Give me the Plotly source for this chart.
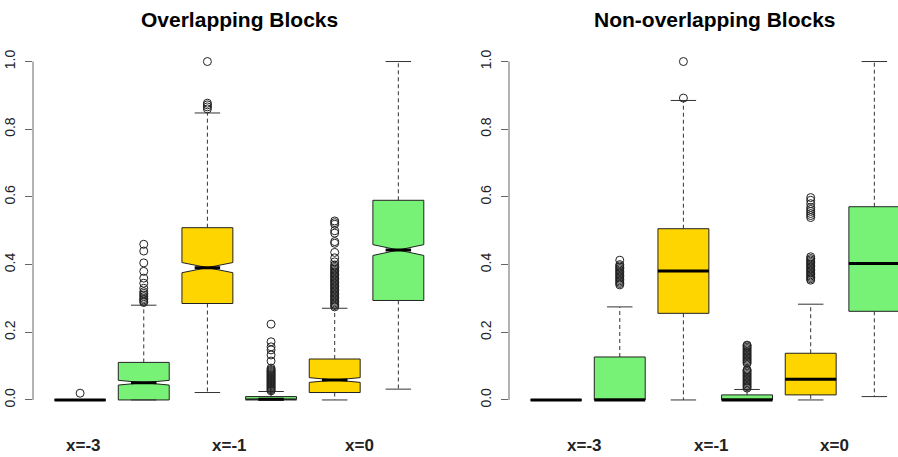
import plotly.graph_objects as go

# ---------------- data ----------------
positions = [1, 2, 3, 4, 5, 6]
group_labels = ["x=-3", "x=-1", "x=0"]
left_label_pos = [1.06, 3.34, 5.39]
right_label_pos = [1.44, 3.44, 5.38]
box_colors = ["gold", "green", "gold", "green", "gold", "green"]

# Overlapping blocks
ov_q1 = [0.0, 0.0, 0.285, 0.0, 0.022, 0.294]
ov_med = [0.0, 0.051, 0.391, 0.002, 0.059, 0.443]
ov_q3 = [0.0, 0.111, 0.509, 0.010, 0.121, 0.590]
ov_lo = [0.0, 0.0, 0.022, 0.0, 0.0, 0.032]
ov_hi = [0.0, 0.280, 0.848, 0.025, 0.271, 1.0]
ov_notch = [0.0, 0.007, 0.015, 0.001, 0.007, 0.016]
ov_out = [
    [0.02],
    [0.288, 0.292, 0.296, 0.300, 0.305, 0.310, 0.315, 0.320, 0.330, 0.345,
     0.360, 0.380, 0.405, 0.440, 0.460],
    [0.860, 0.866, 0.872, 0.877, 1.0],
    [0.027, 0.030, 0.033, 0.036, 0.039, 0.042, 0.045, 0.048, 0.051, 0.054,
     0.057, 0.060, 0.063, 0.066, 0.069, 0.072, 0.075, 0.078, 0.081, 0.084,
     0.087, 0.090, 0.094, 0.115, 0.133, 0.148, 0.157, 0.172, 0.224],
    [0.275, 0.279, 0.283, 0.287, 0.291, 0.295, 0.299, 0.303, 0.307, 0.311,
     0.315, 0.319, 0.323, 0.327, 0.331, 0.335, 0.339, 0.343, 0.347, 0.351,
     0.355, 0.359, 0.363, 0.367, 0.371, 0.375, 0.379, 0.383, 0.387, 0.391,
     0.395, 0.399, 0.408, 0.420, 0.436, 0.463, 0.468, 0.493, 0.500, 0.519,
     0.524, 0.529],
    [],
]

# Non-overlapping blocks
no_q1 = [0.0, 0.0, 0.256, 0.0, 0.015, 0.262]
no_med = [0.0, 0.0, 0.381, 0.0, 0.061, 0.403]
no_q3 = [0.0, 0.127, 0.506, 0.015, 0.138, 0.571]
no_lo = [0.0, 0.0, 0.0, 0.0, 0.0, 0.010]
no_hi = [0.0, 0.275, 0.885, 0.031, 0.283, 1.0]
no_out = [
    [],
    [0.340, 0.344, 0.348, 0.352, 0.356, 0.360, 0.364, 0.368, 0.372, 0.376,
     0.380, 0.384, 0.388, 0.392, 0.396, 0.400, 0.413],
    [0.892, 1.0],
    [0.035, 0.039, 0.043, 0.047, 0.051, 0.055, 0.059, 0.063, 0.067, 0.071,
     0.075, 0.079, 0.083, 0.087, 0.089, 0.108, 0.112, 0.116, 0.120, 0.124,
     0.128, 0.132, 0.136, 0.140, 0.144, 0.148, 0.152, 0.156, 0.160, 0.162],
    [0.354, 0.358, 0.362, 0.366, 0.370, 0.374, 0.378, 0.382, 0.386, 0.390,
     0.394, 0.398, 0.402, 0.406, 0.410, 0.414, 0.418, 0.423,
     0.539, 0.545, 0.551, 0.557, 0.563, 0.569, 0.580, 0.590, 0.598],
    [],
]

y_ticks = [0.0, 0.2, 0.4, 0.6, 0.8, 1.0]
y_ticktext = ["0.0", "0.2", "0.4", "0.6", "0.8", "1.0"]

# ---------------- style ----------------
COLORS = {"gold": "#FFD500", "green": "#77F277"}
EDGE = "#222222"
BOX_W = 0.8
CAP_HALF = 0.2
NOTCH_WIDTH = 0.5

fig = go.Figure()


def add_panel(xa, ya, q1, med, q3, lo, hi, outs, notched, notch):
    for cname in ["gold", "green"]:
        idx = [i for i, c in enumerate(box_colors) if c == cname]
        kw = {}
        if notched:
            kw = dict(notched=True, notchspan=[notch[i] for i in idx],
                      notchwidth=NOTCH_WIDTH)
        fig.add_trace(go.Box(
            x=[positions[i] for i in idx],
            q1=[q1[i] for i in idx],
            median=[med[i] for i in idx],
            q3=[q3[i] for i in idx],
            lowerfence=[q1[i] for i in idx],
            upperfence=[q3[i] for i in idx],
            width=BOX_W, whiskerwidth=0, boxpoints=False,
            fillcolor=COLORS[cname], line=dict(color=EDGE, width=1),
            xaxis=xa, yaxis=ya, showlegend=False, hoverinfo="skip", **kw))
    # whiskers (dashed)
    wx, wy = [], []
    for i, p in enumerate(positions):
        wx += [p, p, None, p, p, None]
        wy += [q3[i], hi[i], None, q1[i], lo[i], None]
    fig.add_trace(go.Scatter(x=wx, y=wy, mode="lines",
                             line=dict(color="#333333", width=1, dash="4px,3px"),
                             xaxis=xa, yaxis=ya, showlegend=False, hoverinfo="skip"))
    # caps
    cx, cy = [], []
    for i, p in enumerate(positions):
        cx += [p - CAP_HALF, p + CAP_HALF, None, p - CAP_HALF, p + CAP_HALF, None]
        cy += [hi[i], hi[i], None, lo[i], lo[i], None]
    fig.add_trace(go.Scatter(x=cx, y=cy, mode="lines",
                             line=dict(color="#333333", width=1),
                             xaxis=xa, yaxis=ya, showlegend=False, hoverinfo="skip"))
    # thick medians
    mx, my = [], []
    for i, p in enumerate(positions):
        half = BOX_W / 2
        if notched and notch[i] > 0:
            half = half * (1 - NOTCH_WIDTH)
        mx += [p - half, p + half, None]
        my += [med[i], med[i], None]
    fig.add_trace(go.Scatter(x=mx, y=my, mode="lines",
                             line=dict(color="black", width=3),
                             xaxis=xa, yaxis=ya, showlegend=False, hoverinfo="skip"))
    # outliers
    ox, oy = [], []
    for i, p in enumerate(positions):
        ox += [p] * len(outs[i])
        oy += outs[i]
    fig.add_trace(go.Scatter(x=ox, y=oy, mode="markers",
                             marker=dict(symbol="circle-open", size=8,
                                         color="#222222", line=dict(width=1)),
                             xaxis=xa, yaxis=ya, showlegend=False, hoverinfo="skip",
                             cliponaxis=False))


add_panel("x", "y", ov_q1, ov_med, ov_q3, ov_lo, ov_hi, ov_out, True, ov_notch)
add_panel("x2", "y2", no_q1, no_med, no_q3, no_lo, no_hi, no_out, False, None)

W, H = 898, 457
px_per = 63.65
left_x0, left_x1 = 33, 446
right_x0 = 509
x_lo = 0.26
y_dom = [(H - 413.5) / H, (H - 48) / H]

yaxis_common = dict(range=[-0.04, 1.04], domain=y_dom, showgrid=False, zeroline=False,
                    showline=False, ticks="outside", ticklen=7, tickcolor="#666666",
                    tickvals=y_ticks, ticktext=y_ticktext, tickangle=-90,
                    tickfont=dict(family="Liberation Sans, Arial", size=14, color="#222222"),
                    ticklabelstandoff=4)
xaxis_common = dict(showgrid=False, zeroline=False, showline=False, showticklabels=False,
                    ticks="")

fig.update_layout(
    width=W, height=H,
    margin=dict(l=0, r=0, t=0, b=0),
    paper_bgcolor="white", plot_bgcolor="white",
    boxmode="overlay",
    xaxis=dict(domain=[left_x0 / W, left_x1 / W],
               range=[x_lo, x_lo + (left_x1 - left_x0) / px_per], **xaxis_common),
    xaxis2=dict(domain=[right_x0 / W, 1.0],
                range=[x_lo, x_lo + (W - right_x0) / px_per], **xaxis_common),
    yaxis=dict(anchor="x", **yaxis_common),
    yaxis2=dict(anchor="x2", **yaxis_common),
)

# y axis lines spanning 0..1 (R style)
for xr, yr in [("x domain", "y"), ("x2 domain", "y2")]:
    fig.add_shape(type="line", xref=xr, yref=yr, x0=0, x1=0, y0=0, y1=1,
                  line=dict(color="#666666", width=1))

# titles
title_font = dict(family="Liberation Sans, Arial", size=21, color="black")
fig.add_annotation(text="<b>Overlapping Blocks</b>", xref="paper", yref="paper",
                   x=(left_x0 + left_x1) / 2 / W, y=1 - 19 / H, showarrow=False,
                   font=title_font, xanchor="center", yanchor="middle")
fig.add_annotation(text="<b>Non-overlapping Blocks</b>", xref="paper", yref="paper",
                   x=715 / W, y=1 - 19 / H, showarrow=False,
                   font=title_font, xanchor="center", yanchor="middle")

# group labels
lab_font = dict(family="Liberation Sans, Arial", size=17, color="#222222")
for xr, poss in [("x", left_label_pos), ("x2", right_label_pos)]:
    for lab, p in zip(group_labels, poss):
        fig.add_annotation(text="<b>" + lab + "</b>", xref=xr, yref="paper", x=p,
                           y=1 - 445 / H, showarrow=False, font=lab_font,
                           xanchor="center", yanchor="middle")

fig.write_html("out.html", config={"displayModeBar": False},
               post_script="document.body.style.margin='0';document.body.style.overflow='hidden';")
